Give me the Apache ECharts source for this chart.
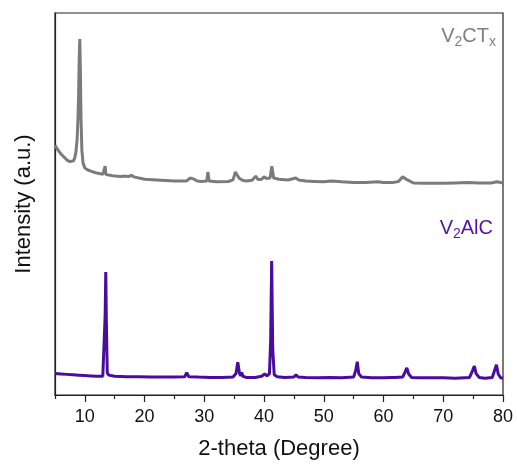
<!DOCTYPE html>
<html>
<head>
<meta charset="utf-8">
<script src="https://cdn.jsdelivr.net/npm/echarts@6/dist/echarts.min.js"></script>
<style>
  html, body { margin: 0; padding: 0; background: #fff; }
  #chart { width: 517px; height: 466px; }
</style>
</head>
<body>
<div id="chart"></div>
<script>
// XRD patterns: V2AlC MAX phase and the etched V2CTx MXene (intensity in a.u.)

// V2AlC pattern: 2-theta (degree) and intensity
const alcTheta = [5, 6, 7, 8, 9, 10, 11, 12, 13, 13.3, 13.4, 13.5, 13.6, 13.75, 14, 15, 17, 19, 21, 23, 25,
  26.7, 27.05, 27.4, 29, 31, 33, 34.8, 35.3, 35.6, 35.9, 36.1, 36.25, 36.45, 37, 38.5, 39.6, 40.1, 40.5,
  40.9, 41.1, 41.27, 41.45, 41.7, 42.2, 43.5, 45.0, 45.35, 45.7, 47, 49, 51, 53, 55.0, 55.35, 55.6, 55.85,
  56.3, 58, 60, 61.3, 61.6, 61.9, 63.2, 63.6, 63.9, 64.2, 64.7, 66, 68, 70, 72, 74.4, 74.9, 75.2, 75.5,
  76.0, 77, 78.2, 78.6, 78.9, 79.2, 79.6, 80];
const alcIntensity = [5.6, 5.5, 5.4, 5.3, 5.2, 5.1, 5.0, 4.9, 4.9, 5.3, 21, 32.2, 19, 5.8, 5.2, 4.9, 4.8, 4.8, 4.7, 4.7, 4.7,
  4.8, 5.8, 4.8, 4.7, 4.6, 4.6, 4.7, 5.6, 8.6, 5.6, 5.0, 5.9, 4.9, 4.6, 4.6, 4.9, 5.5, 5.0,
  5.6, 14, 35.1, 12, 5.3, 4.8, 4.6, 4.7, 5.3, 4.7, 4.6, 4.5, 4.6, 4.5, 4.7, 6.5, 8.7, 5.6,
  4.7, 4.5, 4.5, 4.6, 5.0, 4.6, 4.7, 6.0, 7.1, 5.5, 4.6, 4.5, 4.5, 4.5, 4.4, 4.6, 6.4, 7.6, 5.6,
  4.6, 4.4, 4.6, 6.5, 7.9, 5.5, 4.5, 4.4];

// V2CTx pattern: 2-theta (degree) and intensity
const ctxTheta = [5.0, 5.5, 6.0, 6.5, 7.0, 7.5, 7.8, 8.1, 8.3, 8.5, 8.7, 8.85, 8.95, 9.05, 9.15, 9.25, 9.35, 9.5,
  9.7, 10.0, 10.5, 11, 12, 13, 13.3, 13.4, 13.5, 14, 15, 16, 16.8, 17.0, 17.3, 17.8, 18.2, 20, 22, 25, 27,
  27.6, 27.9, 28.3, 28.8, 29.5, 30.4, 30.6, 30.8, 32, 34, 34.8, 35.2, 35.5, 35.8, 36.3, 37, 38, 38.6, 39,
  39.6, 40.0, 40.4, 41.0, 41.3, 41.6, 42.5, 44, 45.3, 45.8, 47, 48.5, 50, 51.2, 51.5, 53, 55, 57, 59, 60,
  61.5, 62.5, 63.2, 63.5, 64, 65, 67, 70, 72, 74, 76, 78, 79, 80];
const ctxIntensity = [15.4, 14.1, 13.1, 12.3, 11.5, 11.1, 11.0, 11.3, 12.0, 13.6, 16.8, 22.5, 28.5, 37.7, 43.2, 35.1, 22.5, 14.1,
  10.7, 9.4, 8.9, 8.6, 8.1, 7.8, 7.8, 9.9, 7.8, 7.6, 7.3, 7.2, 7.3, 7.8, 7.2, 7.5, 7.1, 6.5, 6.3, 6.0, 6.0,
  6.8, 7.3, 6.5, 6.0, 5.9, 6.0, 8.4, 6.0, 5.8, 5.9, 6.3, 8.4, 8.1, 6.8, 6.3, 6.0, 6.2, 7.3, 6.4,
  6.5, 7.1, 6.7, 6.8, 9.9, 6.8, 6.5, 6.3, 6.8, 6.3, 6.0, 5.9, 5.8, 6.0, 5.6, 5.8, 5.6, 5.6, 5.8, 5.6,
  5.6, 5.9, 7.1, 7.3, 6.3, 5.5, 5.4, 5.4, 5.5, 5.6, 5.5, 5.5, 5.8, 5.5];

// vertical shift that stacks the V2CTx trace above V2AlC
const ctxOffset = 50;

const xTicks = [10, 20, 30, 40, 50, 60, 70, 80];
const xMinorTicks = [5, 15, 25, 35, 45, 55, 65, 75];

const alcData = alcTheta.map((t, i) => [t, alcIntensity[i]]);
const ctxData = ctxTheta.map((t, i) => [t, ctxIntensity[i] + ctxOffset]);

const chart = echarts.init(document.getElementById('chart'), null, { renderer: 'canvas' });
const FONT = '"Liberation Sans", Arial, sans-serif';
const AXIS_COLOR = '#222';

chart.setOption({
  animation: false,
  backgroundColor: '#fff',
  grid: {
    left: 55, right: 14, top: 13, bottom: 71,
    show: true, borderColor: AXIS_COLOR, borderWidth: 1.2, backgroundColor: 'transparent'
  },
  xAxis: [
    {
      type: 'value', min: 5, max: 80,
      name: '2-theta (Degree)', nameLocation: 'middle', nameGap: 43,
      nameTextStyle: { fontFamily: FONT, fontSize: 22, color: '#111' },
      axisLine: { show: true, lineStyle: { color: AXIS_COLOR, width: 1.2 } },
      axisTick: { show: true, inside: false, length: 7, customValues: xTicks, lineStyle: { color: AXIS_COLOR, width: 1.2 } },
      axisLabel: { customValues: xTicks, margin: 13, fontFamily: FONT, fontSize: 18, color: '#111' },
      splitLine: { show: false }
    },
    {
      type: 'value', min: 5, max: 80, position: 'bottom',
      axisLine: { show: false },
      axisTick: { show: true, inside: false, length: 4, customValues: xMinorTicks, lineStyle: { color: AXIS_COLOR, width: 1.2 } },
      axisLabel: { show: false },
      splitLine: { show: false }
    }
  ],
  yAxis: {
    type: 'value', min: 0, max: 100,
    name: 'Intensity (a.u.)', nameLocation: 'middle', nameGap: 20, nameRotate: 90,
    nameTextStyle: { fontFamily: FONT, fontSize: 22, color: '#111' },
    axisLine: { show: true, lineStyle: { color: AXIS_COLOR, width: 1.2 } },
    axisTick: { show: false },
    axisLabel: { show: false },
    splitLine: { show: false }
  },
  series: [
    {
      name: 'V2CTx', type: 'line', data: ctxData, showSymbol: false, symbol: 'none',
      lineStyle: { color: '#7b7b7b', width: 3 }, z: 2
    },
    {
      name: 'V2AlC', type: 'line', data: alcData, showSymbol: false, symbol: 'none',
      lineStyle: { color: '#4a0c9c', width: 3 }, z: 3
    }
  ],
  graphic: [
    {
      type: 'text', x: 496, y: 23,
      style: {
        text: '{m|V}{s|2}{m|CT}{s|x}', align: 'right', verticalAlign: 'top',
        rich: {
          m: { fontFamily: FONT, fontSize: 20, fill: '#808080', lineHeight: 26, verticalAlign: 'middle' },
          s: { fontFamily: FONT, fontSize: 14, fill: '#808080', lineHeight: 26, verticalAlign: 'bottom' }
        }
      }
    },
    {
      type: 'text', x: 493, y: 215,
      style: {
        text: '{m|V}{s|2}{m|AlC}', align: 'right', verticalAlign: 'top',
        rich: {
          m: { fontFamily: FONT, fontSize: 20, fill: '#5314a8', lineHeight: 26, verticalAlign: 'middle' },
          s: { fontFamily: FONT, fontSize: 14, fill: '#5314a8', lineHeight: 26, verticalAlign: 'bottom' }
        }
      }
    }
  ]
});
</script>
</body>
</html>
